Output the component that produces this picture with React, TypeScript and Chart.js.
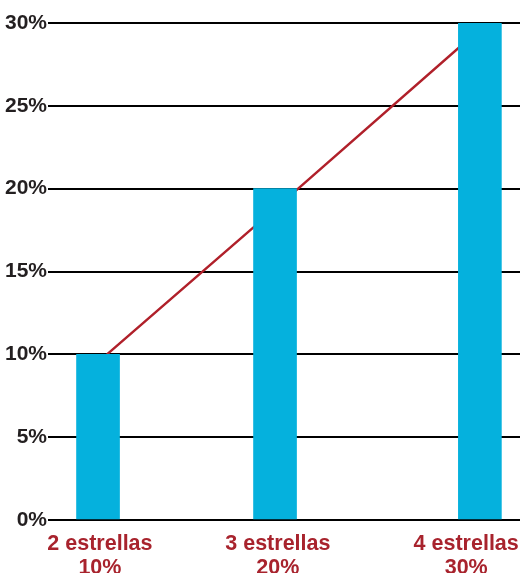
import { useEffect, useRef } from "react";
import { Chart, registerables } from "chart.js";

Chart.register(...registerables);

const categories = ["2 estrellas", "3 estrellas", "4 estrellas"];
const shareLabels = ["10%", "20%", "30%"];
const values = [10, 20, 30];
// horizontal positions (0–100 scale)
const barX = [10.6, 48.1, 91.5];
const lineX = [12.5, 53, 93];
const labelX = [11, 48.7, 88.6];

export default function App() {
  const ref = useRef<HTMLCanvasElement | null>(null);

  useEffect(() => {
    if (!ref.current) return;
    const chart = new Chart(ref.current, {
      type: "bar",
      data: {
        datasets: [
          {
            type: "bar",
            data: values.map((v, i) => ({ x: barX[i], y: v })),
            backgroundColor: "#05B1DD",
            barThickness: 43,
            order: 1,
          } as any,
          {
            type: "line",
            data: values.map((v, i) => ({ x: lineX[i], y: v })),
            borderColor: "#B0202A",
            borderWidth: 2.5,
            pointRadius: 0,
            tension: 0,
            fill: false,
            order: 2,
          } as any,
        ],
      },
      options: {
        animation: false,
        responsive: false,
        layout: { padding: { top: 23, right: 1, left: 0, bottom: 0 } },
        plugins: { legend: { display: false }, tooltip: { enabled: false } },
        scales: {
          x: {
            type: "linear",
            min: 0,
            max: 100,
            offset: false,
            grid: { display: false },
            border: { display: false },
            afterBuildTicks: (scale: any) => {
              scale.ticks = labelX.map((v) => ({ value: v }));
            },
            afterFit: (scale: any) => {
              scale.height = 53;
              scale.paddingLeft = 0;
              scale.paddingRight = 0;
            },
            ticks: {
              autoSkip: false,
              maxRotation: 0,
              padding: 4,
              color: "#A8232D",
              font: { family: "Liberation Sans, Arial, sans-serif", size: 21.5, weight: "bold", lineHeight: 1.12 },
              callback: (value: any) => {
                const i = labelX.indexOf(Number(value));
                return i >= 0 ? [categories[i], shareLabels[i]] : "";
              },
            },
          },
          y: {
            min: 0,
            max: 30,
            grid: { color: "#000000", lineWidth: 2, drawTicks: false },
            border: { display: false },
            afterFit: (scale: any) => {
              scale.width = 48;
            },
            ticks: {
              stepSize: 5,
              padding: 1,
              color: "#231F20",
              font: { family: "Liberation Sans, Arial, sans-serif", size: 21, weight: "bold" },
              callback: (v: any) => v + "%",
            },
          },
        },
      } as any,
    });
    return () => chart.destroy();
  }, []);

  return (
    <div style={{ position: "absolute", left: 0, top: 0, width: 521, height: 573, background: "#fff" }}>
      <canvas ref={ref} width={521} height={573} />
    </div>
  );
}
